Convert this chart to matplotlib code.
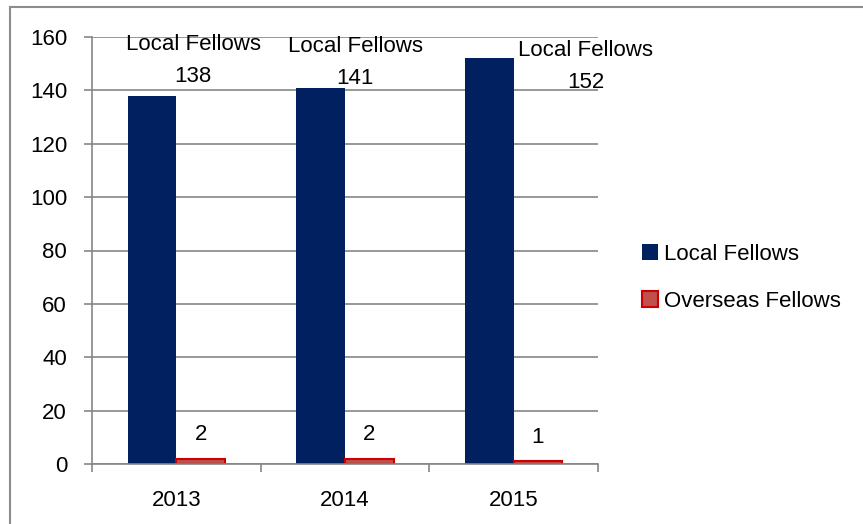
import matplotlib
matplotlib.use("Agg")
from matplotlib import pyplot as plt
from matplotlib.patches import Rectangle
import numpy as np

years = ["2013", "2014", "2015"]
local_fellows = [138, 141, 152]
overseas_fellows = [2, 2, 1]
series_names = ["Local Fellows", "Overseas Fellows"]

plt.rcParams['font.family'] = ['Liberation Sans', 'DejaVu Sans']
fs = 16

fig = plt.figure(figsize=(8.63, 5.24), dpi=100)
ax = fig.add_axes([92 / 863, 60 / 524, 506 / 863, 427 / 524])

# рамка вокруг диаграммы (обрезана справа и снизу)
fig.patches.append(Rectangle((9.5 / 863, -0.05), 1.2, (524 - 7) / 524 + 0.05,
                             transform=fig.transFigure, fill=False,
                             edgecolor='#8c8c8c', linewidth=1.5))

x = np.arange(len(years))
w = 0.288
ax.bar(x - w / 2, local_fellows, w, color='#002060', label=series_names[0])
ax.bar(x + w / 2, overseas_fellows, w, color='#c0504d', edgecolor='#cc0000',
       linewidth=1.5, label=series_names[1])

# подписи данных (сдвинуты вручную, как в оригинале)
local_label_x = [0.099, 1.06, 2.426]
local_label_y = [155.1, 154.4, 152.9]
for i, v in enumerate(local_fellows):
    ax.text(local_label_x[i], local_label_y[i], series_names[0], ha='center',
            va='baseline', fontsize=fs)
    ax.text(local_label_x[i], local_label_y[i] - 12, str(v), ha='center',
            va='baseline', fontsize=fs)
for i, v in enumerate(overseas_fellows):
    ax.text(x[i] + w / 2, v + 7, str(v), ha='center', va='baseline',
            fontsize=fs)

ax.set_xlim(-0.5, 2.5)
ax.set_ylim(0, 160)
ax.set_yticks(range(0, 161, 20))
ax.set_xticks([-0.5, 0.5, 1.5, 2.5])
ax.set_xticklabels([])
ax.set_xticks(x, minor=True)
ax.set_xticklabels(years, minor=True)
ax.tick_params(axis='x', which='minor', length=0, pad=19, labelsize=fs)
ax.tick_params(axis='x', which='major', length=6, width=1.2, color='#868686')
ax.tick_params(axis='y', length=6, width=1.2, color='#868686', pad=12,
               labelsize=fs)

ax.yaxis.grid(True, color='#868686', linewidth=1.2)
ax.set_axisbelow(True)
for s in ['top', 'right']:
    ax.spines[s].set_visible(False)
for s in ['left', 'bottom']:
    ax.spines[s].set_color('#868686')
    ax.spines[s].set_linewidth(1.2)

fig.legend(loc='upper left', bbox_to_anchor=(622 / 863, 1 - 224 / 524),
           frameon=False, fontsize=fs, handlelength=0.7, handleheight=0.7,
           handletextpad=0.3, labelspacing=1.15)

fig.savefig("out.png", dpi=100)
